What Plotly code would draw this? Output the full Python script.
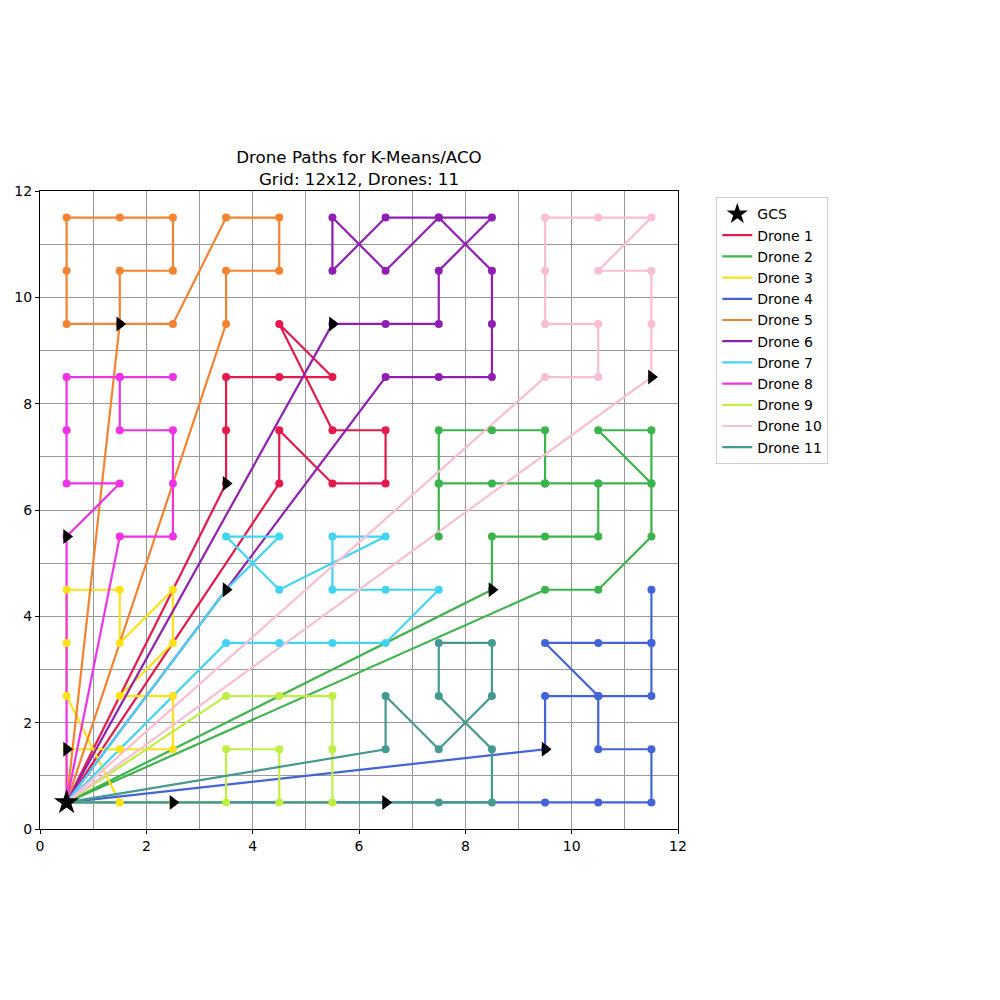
import plotly.graph_objects as go

GCS_X = [0.5]
GCS_Y = [0.5]

DRONE_NAMES = ["Drone 1", "Drone 2", "Drone 3", "Drone 4", "Drone 5", "Drone 6",
               "Drone 7", "Drone 8", "Drone 9", "Drone 10", "Drone 11"]
DRONE_COLORS = ["#e6194b", "#3cb44b", "#ffe119", "#4363d8", "#f58231", "#911eb4",
                "#42d4f4", "#f032e6", "#bfef45", "#fabed4", "#469990"]

# waypoints of each drone (start point first), without the GCS legs
D1_X = [3.5, 3.5, 3.5, 4.5, 5.5, 4.5, 5.5, 6.5, 6.5, 5.5, 4.5, 4.5]
D1_Y = [6.5, 7.5, 8.5, 8.5, 8.5, 9.5, 7.5, 7.5, 6.5, 6.5, 7.5, 6.5]

D2_X = [8.5, 8.5, 9.5, 10.5, 10.5, 9.5, 9.5, 8.5, 7.5, 7.5, 7.5, 7.5, 8.5, 9.5, 10.5, 11.5, 11.5, 10.5, 11.5, 11.5, 10.5, 9.5]
D2_Y = [4.5, 5.5, 5.5, 5.5, 6.5, 6.5, 7.5, 7.5, 7.5, 6.5, 5.5, 6.5, 6.5, 6.5, 6.5, 6.5, 7.5, 7.5, 6.5, 5.5, 4.5, 4.5]

D3_X = [0.5, 1.5, 2.5, 2.5, 1.5, 2.5, 2.5, 1.5, 1.5, 0.5, 0.5, 0.5, 1.5]
D3_Y = [1.5, 1.5, 1.5, 2.5, 2.5, 3.5, 4.5, 3.5, 4.5, 4.5, 3.5, 2.5, 0.5]

D4_X = [9.5, 9.5, 10.5, 11.5, 11.5, 11.5, 11.5, 10.5, 9.5, 10.5, 10.5, 11.5, 11.5, 10.5, 9.5]
D4_Y = [1.5, 2.5, 2.5, 2.5, 3.5, 4.5, 3.5, 3.5, 3.5, 2.5, 1.5, 1.5, 0.5, 0.5, 0.5]

D5_X = [1.5, 1.5, 2.5, 2.5, 1.5, 0.5, 0.5, 0.5, 1.5, 2.5, 3.5, 4.5, 4.5, 3.5, 3.5]
D5_Y = [9.5, 10.5, 10.5, 11.5, 11.5, 11.5, 10.5, 9.5, 9.5, 9.5, 11.5, 11.5, 10.5, 10.5, 9.5]

D6_X = [5.5, 6.5, 7.5, 7.5, 8.5, 7.5, 6.5, 5.5, 5.5, 6.5, 7.5, 8.5, 8.5, 8.5, 7.5, 6.5]
D6_Y = [9.5, 9.5, 9.5, 10.5, 11.5, 11.5, 11.5, 10.5, 11.5, 10.5, 11.5, 10.5, 9.5, 8.5, 8.5, 8.5]

D7_X = [3.5, 4.5, 3.5, 4.5, 6.5, 5.5, 5.5, 6.5, 7.5, 6.5, 5.5, 4.5, 3.5]
D7_Y = [4.5, 5.5, 5.5, 4.5, 5.5, 5.5, 4.5, 4.5, 4.5, 3.5, 3.5, 3.5, 3.5]

D8_X = [0.5, 1.5, 0.5, 0.5, 0.5, 1.5, 2.5, 1.5, 1.5, 2.5, 2.5, 2.5, 1.5]
D8_Y = [5.5, 6.5, 6.5, 7.5, 8.5, 8.5, 8.5, 8.5, 7.5, 7.5, 6.5, 5.5, 5.5]

D9_X = [2.5, 3.5, 3.5, 4.5, 4.5, 5.5, 5.5, 5.5, 4.5, 3.5]
D9_Y = [0.5, 0.5, 1.5, 1.5, 0.5, 0.5, 1.5, 2.5, 2.5, 2.5]

D10_X = [11.5, 11.5, 11.5, 10.5, 11.5, 10.5, 9.5, 9.5, 9.5, 10.5, 10.5, 9.5]
D10_Y = [8.5, 9.5, 10.5, 10.5, 11.5, 11.5, 11.5, 10.5, 9.5, 9.5, 8.5, 8.5]

D11_X = [6.5, 7.5, 8.5, 8.5, 7.5, 7.5, 8.5, 8.5, 7.5, 6.5, 6.5]
D11_Y = [0.5, 0.5, 0.5, 1.5, 2.5, 3.5, 3.5, 2.5, 1.5, 2.5, 1.5]

PATHS_X = [D1_X, D2_X, D3_X, D4_X, D5_X, D6_X, D7_X, D8_X, D9_X, D10_X, D11_X]
PATHS_Y = [D1_Y, D2_Y, D3_Y, D4_Y, D5_Y, D6_Y, D7_Y, D8_Y, D9_Y, D10_Y, D11_Y]

TICKS = [0, 2, 4, 6, 8, 10, 12]

FONT = "DejaVu Sans"
fig = go.Figure()

# route lines (GCS -> waypoints -> GCS)
for i, (px, py) in enumerate(zip(PATHS_X, PATHS_Y)):
    fig.add_trace(go.Scatter(
        x=GCS_X + px + GCS_X, y=GCS_Y + py + GCS_Y,
        mode="lines", name=DRONE_NAMES[i],
        line=dict(color=DRONE_COLORS[i], width=2.2),
        legendrank=i + 2, hoverinfo="skip"))

# waypoint markers
for i, (px, py) in enumerate(zip(PATHS_X, PATHS_Y)):
    fig.add_trace(go.Scatter(
        x=px, y=py, mode="markers", showlegend=False,
        marker=dict(color=DRONE_COLORS[i], size=8, line=dict(width=0)),
        hoverinfo="skip"))

# start arrows
fig.add_trace(go.Scatter(
    x=[p[0] for p in PATHS_X], y=[p[0] for p in PATHS_Y],
    mode="markers", showlegend=False,
    marker=dict(symbol="triangle-right", color="black", size=13, line=dict(width=0)),
    hoverinfo="skip"))

# GCS
fig.add_trace(go.Scatter(
    x=GCS_X, y=GCS_Y, mode="markers", name="GCS", legendrank=1,
    marker=dict(symbol="star", color="black", size=19, line=dict(width=0))))

axis_common = dict(
    range=[0, 12], tickvals=TICKS, ticks="outside", ticklen=4, tickcolor="black",
    showline=True, mirror=True, linecolor="black", linewidth=1,
    showgrid=True, gridcolor="#999999", gridwidth=1, zeroline=False,
    minor=dict(dtick=1, showgrid=True, gridcolor="#999999", gridwidth=1),
    tickfont=dict(family=FONT, size=14, color="black"),
)

fig.update_layout(
    width=1000, height=1000,
    margin=dict(l=40, r=322, t=191, b=171),
    paper_bgcolor="white", plot_bgcolor="white",
    font=dict(family=FONT, color="black"),
    title=dict(text="Drone Paths for K-Means/ACO<br>Grid: 12x12, Drones: 11",
               x=0.359, xanchor="center", xref="container",
               y=0.837, yanchor="bottom", yref="container",
               font=dict(family=FONT, size=16.7, color="black")),
    xaxis=dict(**axis_common, constrain="domain"),
    yaxis=dict(**axis_common, scaleanchor="x", scaleratio=1, constrain="domain"),
    legend=dict(x=1.06, y=0.99, xanchor="left", yanchor="top",
                bordercolor="#cccccc", borderwidth=1, bgcolor="white",
                font=dict(family=FONT, size=14, color="black"),
                traceorder="normal"),
    showlegend=True,
)

fig.write_html("out.html")
